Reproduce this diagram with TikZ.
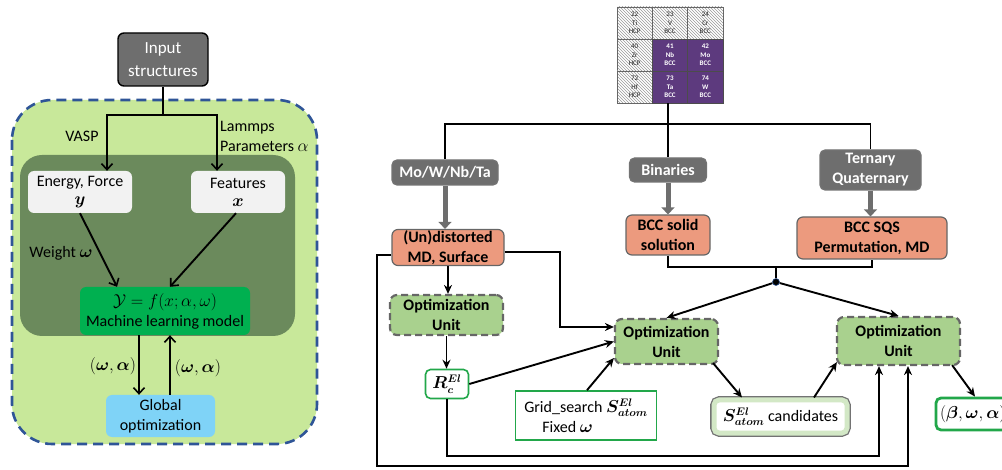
\documentclass[tikz,border=0pt]{standalone}
\usepackage{amsmath}
\usepackage{bm}
\usepackage{fontspec}
\setmainfont{Carlito}
\usetikzlibrary{arrows.meta,patterns}
\definecolor{boxgray}{HTML}{6E6E6E}
\definecolor{outergreen}{HTML}{C8E89A}
\definecolor{innergreen}{HTML}{6B8A5C}
\definecolor{navy}{HTML}{2F5597}
\definecolor{mlgreen}{HTML}{00B050}
\definecolor{globblue}{HTML}{7FD3F7}
\definecolor{softwhite}{HTML}{F2F2F2}
\definecolor{salmon}{HTML}{EC9A7E}
\definecolor{optgreen}{HTML}{A9D18E}
\definecolor{elpurple}{HTML}{5D3A7E}
\definecolor{brdgreen}{HTML}{22A74A}
\definecolor{candgreen}{HTML}{D3E8C6}
\begin{document}
\begin{tikzpicture}[x=1pt,y=-1pt,
  base/.style={align=center, inner sep=1pt, font=\fontsize{16}{20}\selectfont},
  inbox/.style={base, rounded corners=6pt, fill=boxgray, draw=black, line width=1.4pt, text=white, font=\fontsize{17}{23}\selectfont},
  lbox/.style={base, rounded corners=6pt, fill=softwhite},
  graybox/.style={base, rounded corners=5pt, fill=boxgray, draw=black!55, line width=1.2pt, text=white, font=\bfseries\fontsize{16}{20}\selectfont},
  orbox/.style={base, rounded corners=6pt, fill=salmon, draw=black!60, line width=1.2pt, font=\bfseries\fontsize{16}{20}\selectfont},
  optbox/.style={base, rounded corners=7pt, fill=optgreen, draw=black!60, line width=2.2pt, dash pattern=on 7pt off 4pt, font=\bfseries\fontsize{16}{20}\selectfont},
  gbox/.style={base, fill=white, draw=brdgreen, line width=1.6pt},
  hcell/.style={minimum width=35.33pt, minimum height=32pt, inner sep=0pt, align=center, draw=black!60, line width=0.5pt, pattern=north west lines, pattern color=black!40, font=\fontsize{7}{8.5}\selectfont, text=black!85},
  pcell/.style={minimum width=35.33pt, minimum height=32pt, inner sep=0pt, align=center, draw=black!70, line width=0.5pt, fill=elpurple, font=\bfseries\fontsize{7}{8.5}\selectfont, text=white},
  ln/.style={draw=black, line width=1.9pt},
  larr/.style={ln, -{Straight Barb[length=6pt,width=11pt,line width=1.6pt]}},
  arr/.style={ln, -{Stealth[length=9pt,width=8pt]}},
  garr/.style={draw=boxgray, line width=5pt, -{Triangle[length=7pt,width=13pt]}},
  lbl/.style={inner sep=0pt, font=\fontsize{16}{20}\selectfont, align=left}
]
\useasboundingbox (0,0) rectangle (1002,470);

% ---------- left panel ----------
\fill[outergreen, rounded corners=40pt] (12,100) rectangle (317,444);
\draw[navy, line width=2.6pt, dash pattern=on 10pt off 6pt, rounded corners=40pt] (12,100) rectangle (317,444);
\fill[innergreen, rounded corners=22pt] (20,155) rectangle (295,336);

\node[inbox, minimum width=90pt, minimum height=53pt] (inp) at (163,59.5) {Input\\structures};
\node[lbox, minimum width=104pt, minimum height=42pt] (energy) at (80,192) {Energy, Force\\[-2pt]$\bm{y}$};
\node[lbox, minimum width=94pt, minimum height=42pt] (feat) at (238,192) {Features\\[-2pt]$\bm{x}$};
\node[base, rounded corners=6pt, fill=mlgreen, minimum width=170pt, minimum height=48pt] (ml) at (165,311) {$\mathcal{Y}=f(x;\alpha,\omega)$\\Machine learning model};
\node[base, rounded corners=6pt, fill=globblue, minimum width=109pt, minimum height=42pt] (glob) at (160.5,416) {Global\\optimization};

\coordinate (sp) at (163,115);
\draw[ln] (inp.south) -- (sp);
\draw[larr] (sp) -| ([xshift=27pt]energy.north);
\draw[larr] (sp) -| ([xshift=-21pt]feat.north);
\draw[larr] (energy.south) -- ([xshift=-48pt]ml.north);
\draw[larr] ([xshift=-2pt]feat.south) -- ([xshift=5pt]ml.north);
\draw[larr] ([xshift=-26pt]ml.south) -- ([xshift=-21.5pt]glob.north);
\draw[larr] ([xshift=9.5pt]glob.north) -- ([xshift=5pt]ml.south);

\node[lbl] (vasp) at (82,136) {VASP};
\node[lbl, anchor=west] (lam) at (220,136.5) {Lammps\\Parameters $\alpha$};
\node[lbl] (wt) at (61,253) {Weight $\bm{\omega}$};
\node[lbl] (wa1) at (113,366) {$(\bm{\omega},\bm{\alpha})$};
\node[lbl] (wa2) at (198,368) {$(\bm{\omega},\bm{\alpha})$};

% ---------- periodic table ----------
\node[hcell] (c00) at (634.67,23) {22\\Ti\\HCP};
\node[hcell] (c01) at (670,23) {23\\V\\BCC};
\node[hcell] (c02) at (705.33,23) {24\\Cr\\BCC};
\node[hcell] (c10) at (634.67,55) {40\\Zr\\HCP};
\node[pcell] (c11) at (670,55) {41\\Nb\\BCC};
\node[pcell] (c12) at (705.33,55) {42\\Mo\\BCC};
\node[hcell] (c20) at (634.67,87) {72\\Hf\\HCP};
\node[pcell] (c21) at (670,87) {73\\Ta\\BCC};
\node[pcell] (c22) at (705.33,87) {74\\W\\BCC};

% ---------- right panel nodes ----------
\node[graybox, minimum width=106pt, minimum height=25pt] (mo) at (445,172.5) {Mo/W/Nb/Ta};
\node[graybox, minimum width=77pt, minimum height=24pt] (bin) at (668,170) {Binaries};
\node[graybox, minimum width=101pt, minimum height=40pt] (tern) at (870.5,170) {Ternary\\Quaternary};
\node[orbox, minimum width=112pt, minimum height=35pt] (und) at (448,247.5) {(Un)distorted\\MD, Surface};
\node[orbox, minimum width=84pt, minimum height=40pt] (bcc) at (668,235) {BCC solid\\solution};
\node[orbox, minimum width=150pt, minimum height=42pt] (sqs) at (872,238) {BCC SQS\\Permutation, MD};
\node[optbox, minimum width=113pt, minimum height=40pt] (opt1) at (446.5,315) {Optimization\\Unit};
\node[optbox, minimum width=103pt, minimum height=45pt] (opt2) at (666.5,341.5) {Optimization\\Unit};
\node[optbox, minimum width=123pt, minimum height=48pt] (opt3) at (898.5,341) {Optimization\\Unit};
\node[gbox, rounded corners=5pt, minimum width=43pt, minimum height=29pt] (R) at (447,384) {$\bm{R_c^{El}}$};
\node[gbox, minimum width=141pt, minimum height=49pt, align=left] (grid) at (586,415.5) {Grid\_search $\bm{S^{El}_{atom}}$\\\hspace{18pt}Fixed $\bm{\omega}$};
\node[base, fill=white, draw=candgreen, line width=5pt, rounded corners=5pt, preaction={draw=black!55, line width=7.6pt, rounded corners=5pt}, minimum width=133pt, minimum height=33pt] (cand) at (780.5,416.5) {$\bm{S^{El}_{atom}}$ candidates};
\node[base, fill=white, draw=brdgreen, line width=2.8pt, rounded corners=5pt, minimum width=78pt, minimum height=32pt] (beta) at (975,414) {\makebox[70pt][l]{$(\bm{\beta},\bm{\omega},\bm{\alpha})$}};

% ---------- right panel connectors ----------
\coordinate (hub) at (668,124);
\draw[ln] (c21.south -| hub) -- (hub);
\draw[ln] (hub) -- (bin.north);
\draw[ln] (hub) -| (mo.north);
\draw[ln] (hub) -| (tern.north);

\draw[garr] (mo.south) -- (mo.south |- und.north);
\draw[garr] (bin.south) -- (bcc.north);
\draw[garr] (tern.south) -- (tern.south |- sqs.north);

\coordinate (jn) at (776,267);
\node[circle, fill=black, draw=navy, line width=0.6pt, inner sep=0pt, minimum size=7pt] (dot) at (776,282) {};
\draw[ln] (bcc.south) |- (jn) -| (sqs.south);
\draw[ln] (jn) -- (dot);
\draw[arr] (dot) -- (opt2.north);
\draw[arr] (dot) -- (opt3.north);

\draw[arr] (und.south) -- (und.south |- opt1.north);
\draw[arr] ([yshift=-4.5pt]und.east) -| (560,327) -- ([yshift=14.5pt]opt2.west);
\draw[arr] ([yshift=-7.5pt]und.west) -| (377,466) -| ([xshift=9.5pt]opt3.south);
\draw[arr] (opt1.south) -- (opt1.south |- R.north);
\draw[arr] (R.east) -- (opt2.west);
\draw[arr] (R.south) -- ++(0,57) -| ([xshift=-19.5pt]opt3.south);
\draw[arr] ([xshift=1pt]grid.north) -- ([yshift=-16.5pt]opt2.west);
\draw[arr] ([xshift=-6pt,yshift=2pt]opt2.south east) -- ([xshift=-38.5pt]cand.north);
\draw[arr] ([xshift=33.5pt]cand.north) -- ([xshift=1pt,yshift=4pt]opt3.south west);
\draw[arr] ([xshift=-9pt,yshift=1pt]opt3.south east) -- (beta.north);
\end{tikzpicture}
\end{document}
